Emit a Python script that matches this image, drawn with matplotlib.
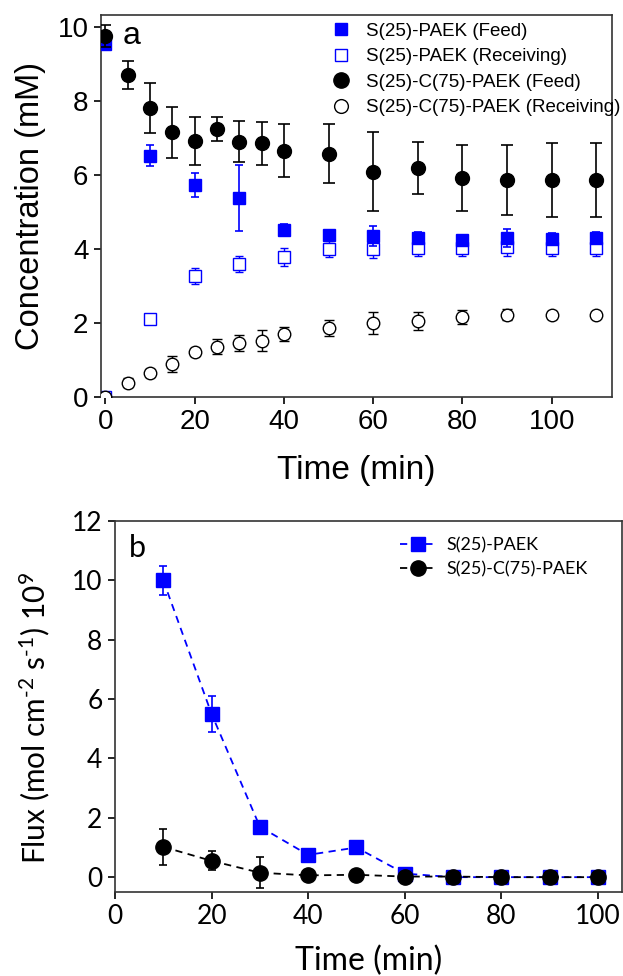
import matplotlib
matplotlib.use("Agg")
import matplotlib.pyplot as plt
import numpy as np

plt.rcParams["mathtext.fontset"] = "custom"
plt.rcParams["mathtext.rm"] = "Lato"
plt.rcParams["mathtext.it"] = "Lato:italic"
plt.rcParams["mathtext.default"] = "regular"

# ---- panel a: concentration vs time ----
t_s25 = [0, 10, 20, 30, 40, 50, 60, 70, 80, 90, 100, 110]
s25_feed = [9.55, 6.52, 5.73, 5.38, 4.52, 4.37, 4.35, 4.30, 4.24, 4.30, 4.28, 4.30]
s25_feed_err = [0.10, 0.28, 0.32, 0.90, 0.15, 0.12, 0.28, 0.15, 0.12, 0.25, 0.15, 0.15]
s25_recv = [0.0, 2.12, 3.27, 3.60, 3.78, 4.00, 4.00, 4.02, 4.02, 4.06, 4.02, 4.02]
s25_recv_err = [0.02, 0.08, 0.22, 0.22, 0.25, 0.22, 0.25, 0.22, 0.22, 0.25, 0.22, 0.22]

t_s25c75 = [0, 5, 10, 15, 20, 25, 30, 35, 40, 50, 60, 70, 80, 90, 100, 110]
s25c75_feed = [9.76, 8.70, 7.80, 7.15, 6.92, 7.24, 6.90, 6.86, 6.65, 6.57, 6.09, 6.18, 5.92, 5.86, 5.87, 5.86]
s25c75_feed_err = [0.30, 0.38, 0.68, 0.68, 0.65, 0.33, 0.56, 0.58, 0.72, 0.80, 1.06, 0.70, 0.90, 0.95, 1.00, 1.00]
s25c75_recv = [0.0, 0.38, 0.65, 0.90, 1.22, 1.36, 1.45, 1.52, 1.70, 1.86, 2.00, 2.05, 2.16, 2.22, 2.22, 2.22]
s25c75_recv_err = [0.02, 0.12, 0.10, 0.22, 0.10, 0.20, 0.22, 0.28, 0.18, 0.22, 0.30, 0.25, 0.20, 0.15, 0.10, 0.08]

# ---- panel b: flux vs time ----
t_flux = [10, 20, 30, 40, 50, 60, 70, 80, 90, 100]
flux_s25 = [10.0, 5.5, 1.7, 0.75, 1.0, 0.12, 0.0, 0.0, 0.0, 0.0]
flux_s25_err = [0.5, 0.6, 0.0, 0.0, 0.0, 0.0, 0.0, 0.0, 0.0, 0.0]
flux_s25c75 = [1.02, 0.55, 0.15, 0.06, 0.08, 0.02, 0.02, 0.0, 0.0, 0.0]
flux_s25c75_err = [0.6, 0.32, 0.52, 0.0, 0.0, 0.0, 0.0, 0.0, 0.0, 0.0]

BLUE = "#0000ff"
fig = plt.figure(figsize=(6.23, 9.76), dpi=100)

# Panel a (Arial-like font)
fa = "Liberation Sans"
ax = fig.add_axes([101 / 623, 1 - 397 / 976, 511 / 623, 382 / 976])
ax.errorbar(t_s25, s25_feed, yerr=s25_feed_err, fmt="s", color=BLUE, ms=8,
            capsize=3, elinewidth=1.2, capthick=1.2, label="S(25)-PAEK (Feed)", zorder=3)
ax.errorbar(t_s25, s25_recv, yerr=s25_recv_err, fmt="s", color=BLUE, mfc="white",
            mec=BLUE, ms=8, mew=1.0, capsize=3, elinewidth=1.0, capthick=1.0,
            label="S(25)-PAEK (Receiving)", zorder=2)
ax.errorbar(t_s25c75, s25c75_feed, yerr=s25c75_feed_err, fmt="o", color="black", ms=10,
            capsize=4, elinewidth=1.2, capthick=1.2, label="S(25)-C(75)-PAEK (Feed)", zorder=4)
ax.errorbar(t_s25c75, s25c75_recv, yerr=s25c75_recv_err, fmt="o", color="black", mfc="white",
            ms=9, mew=1.0, capsize=3.5, elinewidth=1.0, capthick=1.0,
            label="S(25)-C(75)-PAEK (Receiving)", zorder=3)
ax.set_xlim(-1, 113.5)
ax.set_ylim(0, 10.32)
ax.set_xticks([0, 20, 40, 60, 80, 100])
ax.set_yticks([0, 2, 4, 6, 8, 10])
ax.tick_params(direction="out", length=5, width=1.2, labelsize=20, pad=4)
for lab in ax.get_xticklabels() + ax.get_yticklabels():
    lab.set_fontfamily(fa)
ax.set_xlabel("Time (min)", fontsize=24, fontfamily=fa, labelpad=14)
ax.set_ylabel("Concentration (mM)", fontsize=23.5, fontfamily=fa, labelpad=8)
for s in ax.spines.values():
    s.set_linewidth(1.2)
    s.set_color("#333333")
ax.text(0.042, 0.985, "a", transform=ax.transAxes, fontsize=23, fontfamily=fa,
        va="top", ha="left")
handles, labels = ax.get_legend_handles_labels()
handles = [h[0] for h in handles]
ax.legend(handles, labels, loc="upper left", bbox_to_anchor=(0.43, 1.01),
          frameon=False, prop={"family": fa, "size": 13.5}, handlelength=1.0,
          handletextpad=0.8, labelspacing=0.45, borderaxespad=0.2, markerscale=1.1)

# Panel b (Calibri-like font)
fb = "Lato"
bx = fig.add_axes([115 / 623, 1 - 892 / 976, 507 / 623, 371 / 976])
bx.errorbar(t_flux, flux_s25, yerr=flux_s25_err, fmt="s--", color=BLUE, ms=10,
            lw=1.3, capsize=3, elinewidth=1.2, capthick=1.2, label="S(25)-PAEK",
            dashes=(4, 3), zorder=3)
bx.errorbar(t_flux, flux_s25c75, yerr=flux_s25c75_err, fmt="o--", color="black", ms=11,
            lw=1.3, capsize=3, elinewidth=1.2, capthick=1.2, label="S(25)-C(75)-PAEK",
            dashes=(4, 3), zorder=4)
bx.set_xlim(0, 105)
bx.set_ylim(-0.5, 12)
bx.set_xticks([0, 20, 40, 60, 80, 100])
bx.set_yticks([0, 2, 4, 6, 8, 10, 12])
bx.tick_params(direction="out", length=5, width=1.2, labelsize=19, pad=4)
for lab in bx.get_xticklabels() + bx.get_yticklabels():
    lab.set_fontfamily(fb)
bx.set_xlabel("Time (min)", fontsize=23, fontfamily=fb, labelpad=12)
bx.set_ylabel(r"Flux (mol cm$^{\text{-2}}$ s$^{\text{-1}}$) 10$^{9}$", fontsize=21.5,
              fontfamily=fb)
bx.yaxis.set_label_coords(-0.124, 0.47)
for s in bx.spines.values():
    s.set_linewidth(1.2)
    s.set_color("#333333")
bx.text(0.028, 0.965, "b", transform=bx.transAxes, fontsize=22, fontfamily=fb,
        va="top", ha="left")
handles, labels = bx.get_legend_handles_labels()
handles = [h[0] for h in handles]
bx.legend(handles, labels, loc="upper left", bbox_to_anchor=(0.54, 0.985),
          frameon=False, prop={"family": fb, "size": 13}, handlelength=2.0,
          handletextpad=0.6, labelspacing=0.45, borderaxespad=0.2)

fig.savefig("out.png", dpi=100)
